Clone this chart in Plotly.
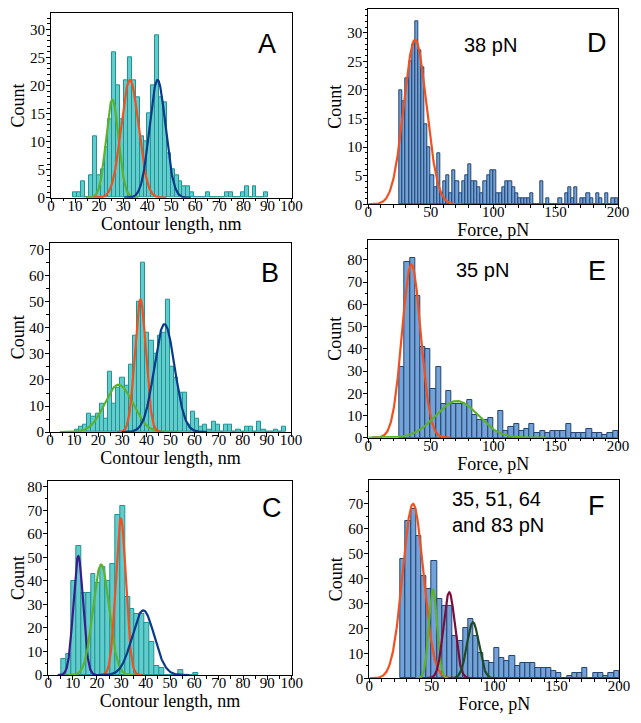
import numpy as np
import plotly.graph_objects as go
from plotly.subplots import make_subplots

# ---- contour length histograms (nm): first bin edge, bin width, counts ----
A_START, A_WIDTH = 9.3, 1.62
A_COUNTS = [1, 1, 3, 0, 4, 11, 4, 5, 9, 14, 26, 20, 14, 21, 25, 21, 18, 11, 10, 15,
            20, 29, 18, 17, 8, 5, 4, 3, 2, 2, 1, 0, 0, 0, 1, 0, 0, 0, 0, 1,
            1, 0, 0, 1, 2, 0, 2, 0, 0, 1]

B_START, B_WIDTH = 10.3, 1.72
B_COUNTS = [1, 2, 3, 7, 6, 7, 11, 5, 23, 11, 17, 21, 18, 26, 37, 50, 65, 38, 35, 30,
            37, 38, 51, 25, 21, 15, 15, 3, 8, 5, 2, 3, 1, 4, 3, 0, 3, 3, 0, 1,
            0, 2, 2, 0, 4, 1, 0, 0, 1, 0, 2]

C_START, C_WIDTH = 5.5, 2.0
C_COUNTS = [7, 9, 40, 55, 35, 35, 43, 39, 46, 40, 47, 68, 72, 33, 28, 26, 26, 22, 14, 4,
            3, 0, 0, 0, 2, 0, 0, 1]

# ---- force histograms (pN) ----
D_START, D_WIDTH = 25.0, 2.5
D_COUNTS = [20, 18, 22, 25, 28, 32, 27, 24, 14, 10, 5, 3, 9,
            2, 4, 5, 2, 6, 4, 2, 4, 5, 7, 4, 4, 3, 2, 4, 5, 6, 6, 2, 2, 3, 4, 4, 3, 2, 1, 1,
            1, 1, 2, 0, 0, 4, 0, 1, 0, 0, 0, 1, 0, 2, 3, 1, 3, 0, 1, 1, 2, 1, 0, 2, 1, 0, 2, 0, 1, 1]

E_START, E_WIDTH = 25.0, 175 / 42
E_COUNTS = [32, 79, 81, 64, 41, 40, 22, 32, 15, 21, 15, 15, 15, 17, 10, 8, 8, 9, 3, 12,
            3, 5, 6, 3, 4, 6, 2, 3, 2, 3, 3, 3, 6, 2, 2, 2, 4, 2, 2, 1, 2, 3]

F_START, F_WIDTH = 25.0, 175 / 42
F_COUNTS = [48, 63, 68, 57, 41, 36, 47, 32, 29, 29, 17, 15, 20, 24, 17, 10, 7, 6, 12, 8,
            7, 9, 5, 6, 6, 6, 4, 4, 4, 3, 2, 0, 1, 2, 2, 4, 0, 2, 2, 1, 2, 3]

# ---- gaussian fits: (center, peak height, sigma) ----
A_FITS = [(25.5, 17.5, 2.6), (32.8, 21.0, 3.6), (44.3, 21.0, 3.3)]
B_FITS = [(28.5, 18.2, 5.8), (37.5, 51.0, 2.3), (47.5, 41.5, 4.2)]
C_FITS = [(12.3, 50.5, 2.0), (21.7, 47.0, 3.3), (29.8, 66.5, 2.1), (39.0, 27.5, 4.5)]
D_FITS = [(37.5, 28.8, 9.0)]
E_FITS = [(34.5, 78.0, 7.5), (71.0, 16.5, 17.0)]
F_FITS = [(35.0, 70.0, 8.3), (51.0, 35.5, 3.3), (64.0, 34.5, 4.6), (83.0, 22.5, 4.8)]

ORANGE, GREEN, NAVY = "#f2511f", "#5db22c", "#0c3a8a"
PURPLE, MAROON, DKGREEN = "#3a1c8c", "#7d0d3c", "#1f4a22"
A_COLORS = [GREEN, ORANGE, NAVY]
B_COLORS = [GREEN, ORANGE, NAVY]
C_COLORS = [PURPLE, GREEN, ORANGE, NAVY]
D_COLORS = [ORANGE]
E_COLORS = [ORANGE, GREEN]
F_COLORS = [ORANGE, GREEN, MAROON, DKGREEN]

TEAL_FILL, TEAL_LINE = "#62cccc", "#1f9494"
BLUE_FILL, BLUE_LINE = "#72a2d8", "#23456f"

SERIF = "Liberation Serif, Times New Roman, serif"
SANS = "Liberation Sans, Arial, sans-serif"

# the page adds an 8px body margin, so the figure is drawn 16px smaller
W, H, OFF = 625, 707, 8


def dom_x(left, right):
    return [(left - OFF) / W, (right - OFF) / W]


def dom_y(top, bottom):
    return [1 - (bottom - OFF) / H, 1 - (top - OFF) / H]


# panel frames in page pixels: left, right, top, bottom
PANELS = [
    ("A", 1, 1, A_START, A_WIDTH, A_COUNTS, A_FITS, A_COLORS, [0, 100], [0, 32.9], 10, 5, 5, 1,
     (51, 291.5, 13.3, 197.7), "Contour length, nm", None, "teal"),
    ("D", 1, 2, D_START, D_WIDTH, D_COUNTS, D_FITS, D_COLORS, [0, 200], [0, 34.1], 50, 10, 5, 1,
     (368.3, 618, 9.3, 204.3), "Force, pN", "38 pN", "blue"),
    ("B", 2, 1, B_START, B_WIDTH, B_COUNTS, B_FITS, B_COLORS, [0, 100], [0, 72.8], 10, 5, 10, 5,
     (50, 291, 242.7, 432), "Contour length, nm", None, "teal"),
    ("E", 2, 2, E_START, E_WIDTH, E_COUNTS, E_FITS, E_COLORS, [0, 200], [0, 89.0], 50, 10, 10, 5,
     (368.3, 618, 240, 437.7), "Force, pN", "35 pN", "blue"),
    ("C", 3, 1, C_START, C_WIDTH, C_COUNTS, C_FITS, C_COLORS, [0, 100], [0, 82.5], 10, 5, 10, 5,
     (48.3, 291.7, 481, 675), "Contour length, nm", None, "teal"),
    ("F", 3, 2, F_START, F_WIDTH, F_COUNTS, F_FITS, F_COLORS, [0, 200], [0, 79.6], 50, 10, 10, 5,
     (369.3, 619, 480, 678.3), "Force, pN", "35, 51, 64<br>and 83 pN", "blue"),
]

LETTER_POS = {"A": (0.898, 0.834), "B": (0.913, 0.84), "C": (0.921, 0.861),
              "D": (0.916, 0.827), "E": (0.916, 0.843), "F": (0.908, 0.869)}
LABEL_POS = {"D": (0.488, 0.817), "E": (0.456, 0.848), "F": (0.323, 0.839)}

fig = make_subplots(rows=3, cols=2)

for (key, row, col, start, width, counts, fits, colors, xr, yr, xd, xm, yd, ym,
     frame, xtitle, label, style) in PANELS:
    counts = np.array(counts, dtype=float)
    centers = start + width * (np.arange(len(counts)) + 0.5)
    fill, edge = (TEAL_FILL, TEAL_LINE) if style == "teal" else (BLUE_FILL, BLUE_LINE)
    fig.add_trace(go.Bar(
        x=centers, y=counts, width=width,
        marker=dict(color=fill, line=dict(color=edge, width=1)),
        showlegend=False,
    ), row=row, col=col)

    for (mu, amp, sig), c in zip(fits, colors):
        x = np.linspace(max(xr[0], mu - 4.2 * sig), min(xr[1], mu + 4.2 * sig), 200)
        fig.add_trace(go.Scatter(
            x=x, y=amp * np.exp(-0.5 * ((x - mu) / sig) ** 2), mode="lines",
            line=dict(color=c, width=2.2), showlegend=False,
        ), row=row, col=col)

    left, right, top, bottom = frame
    fig.update_xaxes(
        range=xr, domain=dom_x(left, right), dtick=xd, tick0=0,
        minor=dict(dtick=xm, ticklen=2.5, tickcolor="black", ticks="outside"),
        title=dict(text=xtitle, standoff=0, font=dict(family=SERIF, size=18, color="black")),
        row=row, col=col,
    )
    fig.update_yaxes(
        range=yr, domain=dom_y(top, bottom), dtick=yd, tick0=0,
        minor=dict(dtick=ym, ticklen=2.5, tickcolor="black", ticks="outside"),
        title=dict(text="Count", standoff=0, font=dict(family=SERIF, size=18, color="black")),
        row=row, col=col,
    )

    sub = fig.get_subplot(row, col)
    xref = sub.xaxis.plotly_name.replace("axis", "")
    yref = sub.yaxis.plotly_name.replace("axis", "")
    lx, ly = LETTER_POS[key]
    fig.add_annotation(x=lx, y=ly, xref=f"{xref} domain", yref=f"{yref} domain",
                       xanchor="center", yanchor="middle",
                       text=key, showarrow=False,
                       font=dict(family=SANS, size=27, color="black"))
    if label:
        tx, ty = LABEL_POS[key]
        fig.add_annotation(x=tx, y=ty, xref=f"{xref} domain", yref=f"{yref} domain",
                           text=label, showarrow=False, yanchor="middle",
                           xanchor="center" if key != "F" else "left", align="left",
                           font=dict(family=SANS, size=20, color="black"))

fig.update_xaxes(showline=True, linecolor="black", linewidth=1.2, mirror=True,
                 ticks="outside", ticklen=4, tickcolor="black", showgrid=False,
                 zeroline=False, automargin=False, ticklabelstandoff=-10,
                 tickfont=dict(family=SERIF, size=15, color="black"))
fig.update_yaxes(showline=True, linecolor="black", linewidth=1.2, mirror=True,
                 ticks="outside", ticklen=4, tickcolor="black", showgrid=False,
                 zeroline=False, automargin=False, ticklabelstandoff=-2,
                 tickfont=dict(family=SERIF, size=15, color="black"))

fig.update_layout(
    width=W, height=H,
    margin=dict(t=0, b=0, l=0, r=0),
    plot_bgcolor="white", paper_bgcolor="white",
    bargap=0, barmode="overlay",
)

fig.write_html("out.html")
